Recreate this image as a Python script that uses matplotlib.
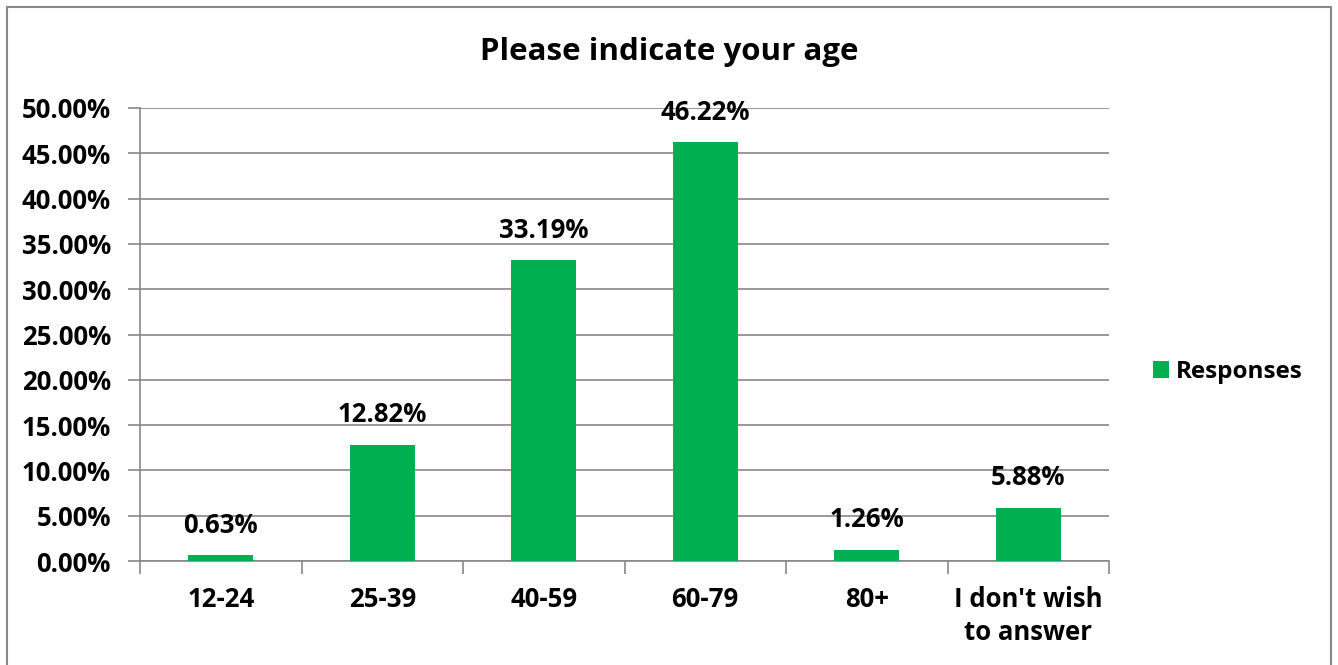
import numpy as np
import matplotlib.pyplot as plt
from matplotlib.patches import Rectangle

plt.rcParams['font.family'] = ['Open Sans', 'DejaVu Sans']
plt.rcParams['font.weight'] = 'bold'

# data
categories = ['12-24', '25-39', '40-59', '60-79', '80+', "I don't wish\nto answer"]
responses = [0.63, 12.82, 33.19, 46.22, 1.26, 5.88]
y_ticks = [0, 5, 10, 15, 20, 25, 30, 35, 40, 45, 50]

green = '#00B050'
grid_grey = '#888888'

fig = plt.figure(figsize=(13.38, 6.65), dpi=100)
ax = fig.add_axes([140 / 1338, 1 - 561 / 665, 969 / 1338, 453 / 665])

x = np.arange(len(categories))
bars = ax.bar(x, responses, width=0.4, color=green, label='Responses', zorder=3)

for xi, v in zip(x, responses):
    ax.annotate(f'{v:.2f}%', (xi, v), xytext=(0, 12), textcoords='offset points',
                ha='center', va='bottom', fontsize=18.5, fontweight='bold')

ax.set_xlim(-0.5, len(categories) - 0.5)
ax.set_ylim(0, 50)
ax.set_yticks(y_ticks)
ax.set_yticklabels([f'{t:.2f}%' for t in y_ticks])
ax.yaxis.grid(True, color=grid_grey, linewidth=1.2, zorder=0)

# category labels centred, tick marks at the category borders
ax.set_xticks(x)
ax.set_xticklabels(categories, linespacing=1.3)
ax.set_xticks(np.arange(len(categories) + 1) - 0.5, minor=True)
ax.tick_params(axis='x', which='major', length=0, pad=18, labelsize=18.5)
ax.tick_params(axis='x', which='minor', length=9, width=1.2, color=grid_grey, direction='out')
ax.tick_params(axis='y', length=9, width=1.2, color=grid_grey, pad=12, labelsize=18.5)

for side in ['top', 'right']:
    ax.spines[side].set_visible(False)
for side in ['left', 'bottom']:
    ax.spines[side].set_color(grid_grey)
    ax.spines[side].set_linewidth(1.2)

fig.text(0.5, 1 - 52 / 665, 'Please indicate your age', ha='center', va='center',
         fontsize=22.5, fontweight='bold')

fig.legend(handles=[bars], labels=['Responses'], loc='center left',
           bbox_to_anchor=(1131 / 1338, 1 - 372 / 665), frameon=False,
           fontsize=17.5, handlelength=0.65, handleheight=0.65, handletextpad=0.3)

# outer chart frame
fig.patches.append(Rectangle((7 / 1338, -0.05), 1324 / 1338, 1.05 - 7 / 665,
                             transform=fig.transFigure, fill=False,
                             edgecolor=grid_grey, linewidth=1.5))

fig.savefig('out.png', dpi=100)
